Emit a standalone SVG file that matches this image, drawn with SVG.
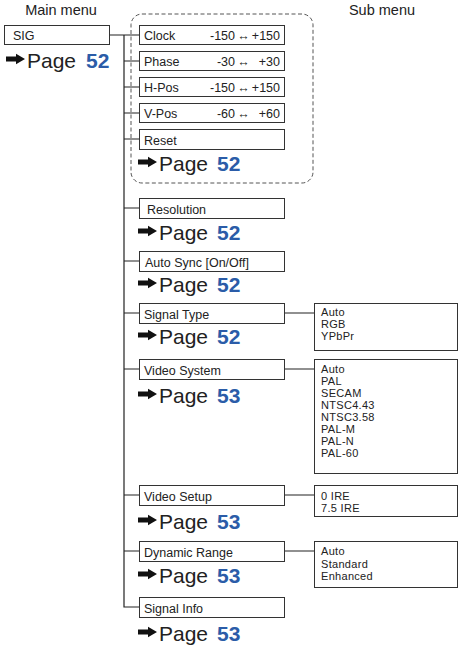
<svg xmlns="http://www.w3.org/2000/svg" xmlns:xlink="http://www.w3.org/1999/xlink" width="460" height="652" viewBox="0 0 460 652">
<style>
  text { font-family: "Liberation Sans", Arial, sans-serif; fill: #222; }
  .hdr { font-size: 14.5px; }
  .box { fill: #fff; stroke: #333; stroke-width: 1; }
  .lbl { font-size: 12.5px; }
  .sub { font-size: 11px; letter-spacing: 0.3px; }
  .pg { font-size: 21px; }
  .num { font-size: 21px; font-weight: bold; fill: #2b5ca8; }
  .ln { fill: none; stroke: #222; stroke-width: 1.2; }
  .dash { fill: none; stroke: #555; stroke-width: 1; stroke-dasharray: 4 2.5; }
</style>
<defs>
  <path id="arr" d="M0,-2.6 H10 V-5.2 L19,0 L10,5.2 V2.6 H0 Z" fill="#111"/>
</defs>

<text class="hdr" x="61" y="15" text-anchor="middle">Main menu</text>
<text class="hdr" x="382" y="15" text-anchor="middle">Sub menu</text>

<rect class="dash" x="131" y="14" width="182" height="169" rx="11"/>

<g id="connectors">
  <path class="ln" d="M110,35 H124 M124,35 V607 H139"/>
  <path class="ln" d="M124,35 H139 M124,61 H139 M124,87 H139 M124,113 H139 M124,139 H139 M124,208 H139 M124,261 H139 M124,313 H139 M124,369 H139 M124,495 H139 M124,551 H139"/>
  <path class="ln" d="M285,313 H314 M285,369 H314 M285,495 H314 M285,551 H314"/>
</g>

<g id="sig">
  <rect class="box" x="4.5" y="25.5" width="105" height="19"/>
  <text class="lbl" x="13" y="40">SIG</text>
  <use xlink:href="#arr" x="6" y="59"/>
  <text class="pg" x="27" y="68">Page</text><text class="num" x="86" y="68">52</text>
</g>

<g id="clock">
  <rect class="box" x="139.5" y="25.5" width="145" height="19"/>
  <text class="lbl" x="144" y="40">Clock</text>
  <text class="lbl" x="235" y="40" text-anchor="end">-150</text>
  <text class="lbl" x="243.5" y="40" text-anchor="middle">↔</text>
  <text class="lbl" x="280" y="40" text-anchor="end">+150</text>
</g>
<g id="phase">
  <rect class="box" x="139.5" y="51.5" width="145" height="19"/>
  <text class="lbl" x="144" y="66">Phase</text>
  <text class="lbl" x="235" y="66" text-anchor="end">-30</text>
  <text class="lbl" x="243.5" y="66" text-anchor="middle">↔</text>
  <text class="lbl" x="280" y="66" text-anchor="end">+30</text>
</g>
<g id="hpos">
  <rect class="box" x="139.5" y="77.5" width="145" height="19"/>
  <text class="lbl" x="144" y="92">H-Pos</text>
  <text class="lbl" x="235" y="92" text-anchor="end">-150</text>
  <text class="lbl" x="243.5" y="92" text-anchor="middle">↔</text>
  <text class="lbl" x="280" y="92" text-anchor="end">+150</text>
</g>
<g id="vpos">
  <rect class="box" x="139.5" y="103.5" width="145" height="19"/>
  <text class="lbl" x="144" y="118">V-Pos</text>
  <text class="lbl" x="235" y="118" text-anchor="end">-60</text>
  <text class="lbl" x="243.5" y="118" text-anchor="middle">↔</text>
  <text class="lbl" x="280" y="118" text-anchor="end">+60</text>
</g>
<g id="reset">
  <rect class="box" x="139.5" y="129.5" width="145" height="20"/>
  <text class="lbl" x="144" y="144.5">Reset</text>
  <use xlink:href="#arr" x="138" y="162"/>
  <text class="pg" x="159" y="171">Page</text><text class="num" x="217" y="171">52</text>
</g>

<g id="resolution">
  <rect class="box" x="139.5" y="198.5" width="145" height="20"/>
  <text class="lbl" x="147" y="213.5">Resolution</text>
  <use xlink:href="#arr" x="138" y="231"/>
  <text class="pg" x="159" y="240">Page</text><text class="num" x="217" y="240">52</text>
</g>
<g id="autosync">
  <rect class="box" x="139.5" y="251.5" width="145" height="20"/>
  <text class="lbl" x="145" y="266.5">Auto Sync [On/Off]</text>
  <use xlink:href="#arr" x="138" y="283"/>
  <text class="pg" x="159" y="292">Page</text><text class="num" x="217" y="292">52</text>
</g>
<g id="signaltype">
  <rect class="box" x="139.5" y="303.5" width="145" height="20"/>
  <text class="lbl" x="144" y="318.5">Signal Type</text>
  <use xlink:href="#arr" x="138" y="335"/>
  <text class="pg" x="159" y="344">Page</text><text class="num" x="217" y="344">52</text>
</g>
<g id="signaltype-sub">
  <rect class="box" x="314.5" y="303.5" width="143" height="47"/>
  <text class="sub" x="321" y="316">Auto</text>
  <text class="sub" x="321" y="328">RGB</text>
  <text class="sub" x="321" y="340">YPbPr</text>
</g>
<g id="videosystem">
  <rect class="box" x="139.5" y="359.5" width="145" height="20"/>
  <text class="lbl" x="144" y="374.5">Video System</text>
  <use xlink:href="#arr" x="138" y="394"/>
  <text class="pg" x="159" y="403">Page</text><text class="num" x="217" y="403">53</text>
</g>
<g id="videosystem-sub">
  <rect class="box" x="314.5" y="359.5" width="143" height="114"/>
  <text class="sub" x="321" y="373">Auto</text>
  <text class="sub" x="321" y="385">PAL</text>
  <text class="sub" x="321" y="397">SECAM</text>
  <text class="sub" x="321" y="409">NTSC4.43</text>
  <text class="sub" x="321" y="421">NTSC3.58</text>
  <text class="sub" x="321" y="433">PAL-M</text>
  <text class="sub" x="321" y="445">PAL-N</text>
  <text class="sub" x="321" y="457">PAL-60</text>
</g>
<g id="videosetup">
  <rect class="box" x="139.5" y="485.5" width="145" height="20"/>
  <text class="lbl" x="144" y="500.5">Video Setup</text>
  <use xlink:href="#arr" x="138" y="520"/>
  <text class="pg" x="159" y="529">Page</text><text class="num" x="217" y="529">53</text>
</g>
<g id="videosetup-sub">
  <rect class="box" x="314.5" y="485.5" width="143" height="31"/>
  <text class="sub" x="321" y="499.5">0 IRE</text>
  <text class="sub" x="321" y="512">7.5 IRE</text>
</g>
<g id="dynamicrange">
  <rect class="box" x="139.5" y="541.5" width="145" height="20"/>
  <text class="lbl" x="144" y="556.5">Dynamic Range</text>
  <use xlink:href="#arr" x="138" y="574"/>
  <text class="pg" x="159" y="583">Page</text><text class="num" x="217" y="583">53</text>
</g>
<g id="dynamicrange-sub">
  <rect class="box" x="314.5" y="541.5" width="143" height="46"/>
  <text class="sub" x="321" y="555">Auto</text>
  <text class="sub" x="321" y="567.5">Standard</text>
  <text class="sub" x="321" y="580">Enhanced</text>
</g>
<g id="signalinfo">
  <rect class="box" x="139.5" y="597.5" width="145" height="20"/>
  <text class="lbl" x="144" y="612.5">Signal Info</text>
  <use xlink:href="#arr" x="138" y="632"/>
  <text class="pg" x="159" y="641">Page</text><text class="num" x="217" y="641">53</text>
</g>
</svg>
